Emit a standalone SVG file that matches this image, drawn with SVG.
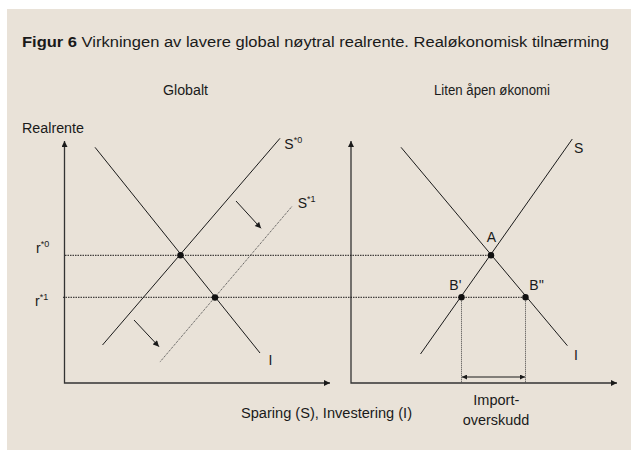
<svg xmlns="http://www.w3.org/2000/svg" width="631" height="450" viewBox="0 0 631 450">
<defs>
<marker id="ah" viewBox="0 0 10 10" refX="10" refY="5" markerWidth="7" markerHeight="6" markerUnits="userSpaceOnUse" orient="auto-start-reverse"><path d="M0,0 L10,5 L0,10 z" fill="#1a1a1a"/></marker>
<marker id="ahs" viewBox="0 0 10 10" refX="10" refY="5" markerWidth="6" markerHeight="5" markerUnits="userSpaceOnUse" orient="auto-start-reverse"><path d="M0,0 L10,5 L0,10 z" fill="#1a1a1a"/></marker>
</defs>
<style>
text{font-family:"Liberation Sans",Arial,sans-serif;fill:#1a1a1a;font-size:14px}
.ln{stroke:#1a1a1a;stroke-width:1;fill:none}
.ax{stroke:#333;stroke-width:1.3;fill:none}
.dot{stroke:#1a1a1a;stroke-width:1;stroke-dasharray:1.5 1;fill:none}
.dot2{stroke:#444;stroke-width:1;stroke-dasharray:1 1;fill:none}
.sup{font-size:9px}
.pt{fill:#111}
</style>
<rect x="7" y="9" width="624" height="441" fill="#e9e2d8"/>
<g id="title">
<text x="22" y="46.7" font-size="15" textLength="587" lengthAdjust="spacingAndGlyphs"><tspan font-weight="bold">Figur 6</tspan> Virkningen av lavere global nøytral realrente. Realøkonomisk tilnærming</text>
</g>
<g id="connectors">
<polyline class="ax" points="64.5,141 64.5,383 330,383" marker-start="url(#ah)" marker-end="url(#ah)"/>
<polyline class="ax" points="351,141 351,383 617,383" marker-start="url(#ah)" marker-end="url(#ah)"/>
<line class="dot" x1="65" y1="255.3" x2="491" y2="255.3"/>
<line class="dot" x1="63" y1="297.3" x2="525.5" y2="297.3"/>
<line class="dot2" x1="461.5" y1="297.3" x2="461.5" y2="383"/>
<line class="dot2" x1="525.5" y1="297.3" x2="525.5" y2="383"/>
<line class="ln" x1="95" y1="147.3" x2="260" y2="353"/>
<line class="ln" x1="280" y1="138.3" x2="102.5" y2="345"/>
<line class="dot2" x1="291.7" y1="206.7" x2="159.7" y2="362.3"/>
<line class="ln" x1="236" y1="201" x2="261" y2="228.3" marker-end="url(#ah)"/>
<line class="ln" x1="134" y1="320" x2="159" y2="346.7" marker-end="url(#ah)"/>
<line class="ln" x1="401" y1="147.3" x2="567.4" y2="345.7"/>
<line class="ln" x1="572.3" y1="139" x2="420.5" y2="354"/>
<line class="ln" x1="462" y1="377" x2="525" y2="377" stroke-width="1.3" marker-start="url(#ahs)" marker-end="url(#ahs)"/>
</g>
<g id="left-chart">
<text x="163" y="95" textLength="45" lengthAdjust="spacingAndGlyphs">Globalt</text>
<text x="22" y="133" textLength="62" lengthAdjust="spacingAndGlyphs">Realrente</text>
<text x="284.3" y="149.3">S<tspan class="sup" dy="-6">*0</tspan></text>
<text x="297.7" y="208.3">S<tspan class="sup" dy="-6">*1</tspan></text>
<text x="36" y="252.7">r<tspan class="sup" dy="-6">*0</tspan></text>
<text x="35" y="306">r<tspan class="sup" dy="-6">*1</tspan></text>
<text x="268.5" y="365">I</text>
<circle class="pt" cx="180.5" cy="255.3" r="3.2"/>
<circle class="pt" cx="215" cy="297.5" r="3.2"/>
<text x="241" y="418.3" textLength="171" lengthAdjust="spacingAndGlyphs">Sparing (S), Investering (I)</text>
</g>
<g id="right-chart">
<text x="434" y="95" textLength="116" lengthAdjust="spacingAndGlyphs">Liten åpen økonomi</text>
<text x="574" y="153.3">S</text>
<text x="486.7" y="242.3">A</text>
<text x="449.3" y="290.3">B'</text>
<text x="529.3" y="290.3">B''</text>
<text x="574" y="360">I</text>
<circle class="pt" cx="491" cy="255.3" r="3.2"/>
<circle class="pt" cx="461.5" cy="297.3" r="3.2"/>
<circle class="pt" cx="525.5" cy="297.3" r="3.2"/>
<text x="473.3" y="405" textLength="46" lengthAdjust="spacingAndGlyphs">Import-</text>
<text x="462.7" y="425" textLength="66.6" lengthAdjust="spacingAndGlyphs">overskudd</text>
</g>
</svg>
